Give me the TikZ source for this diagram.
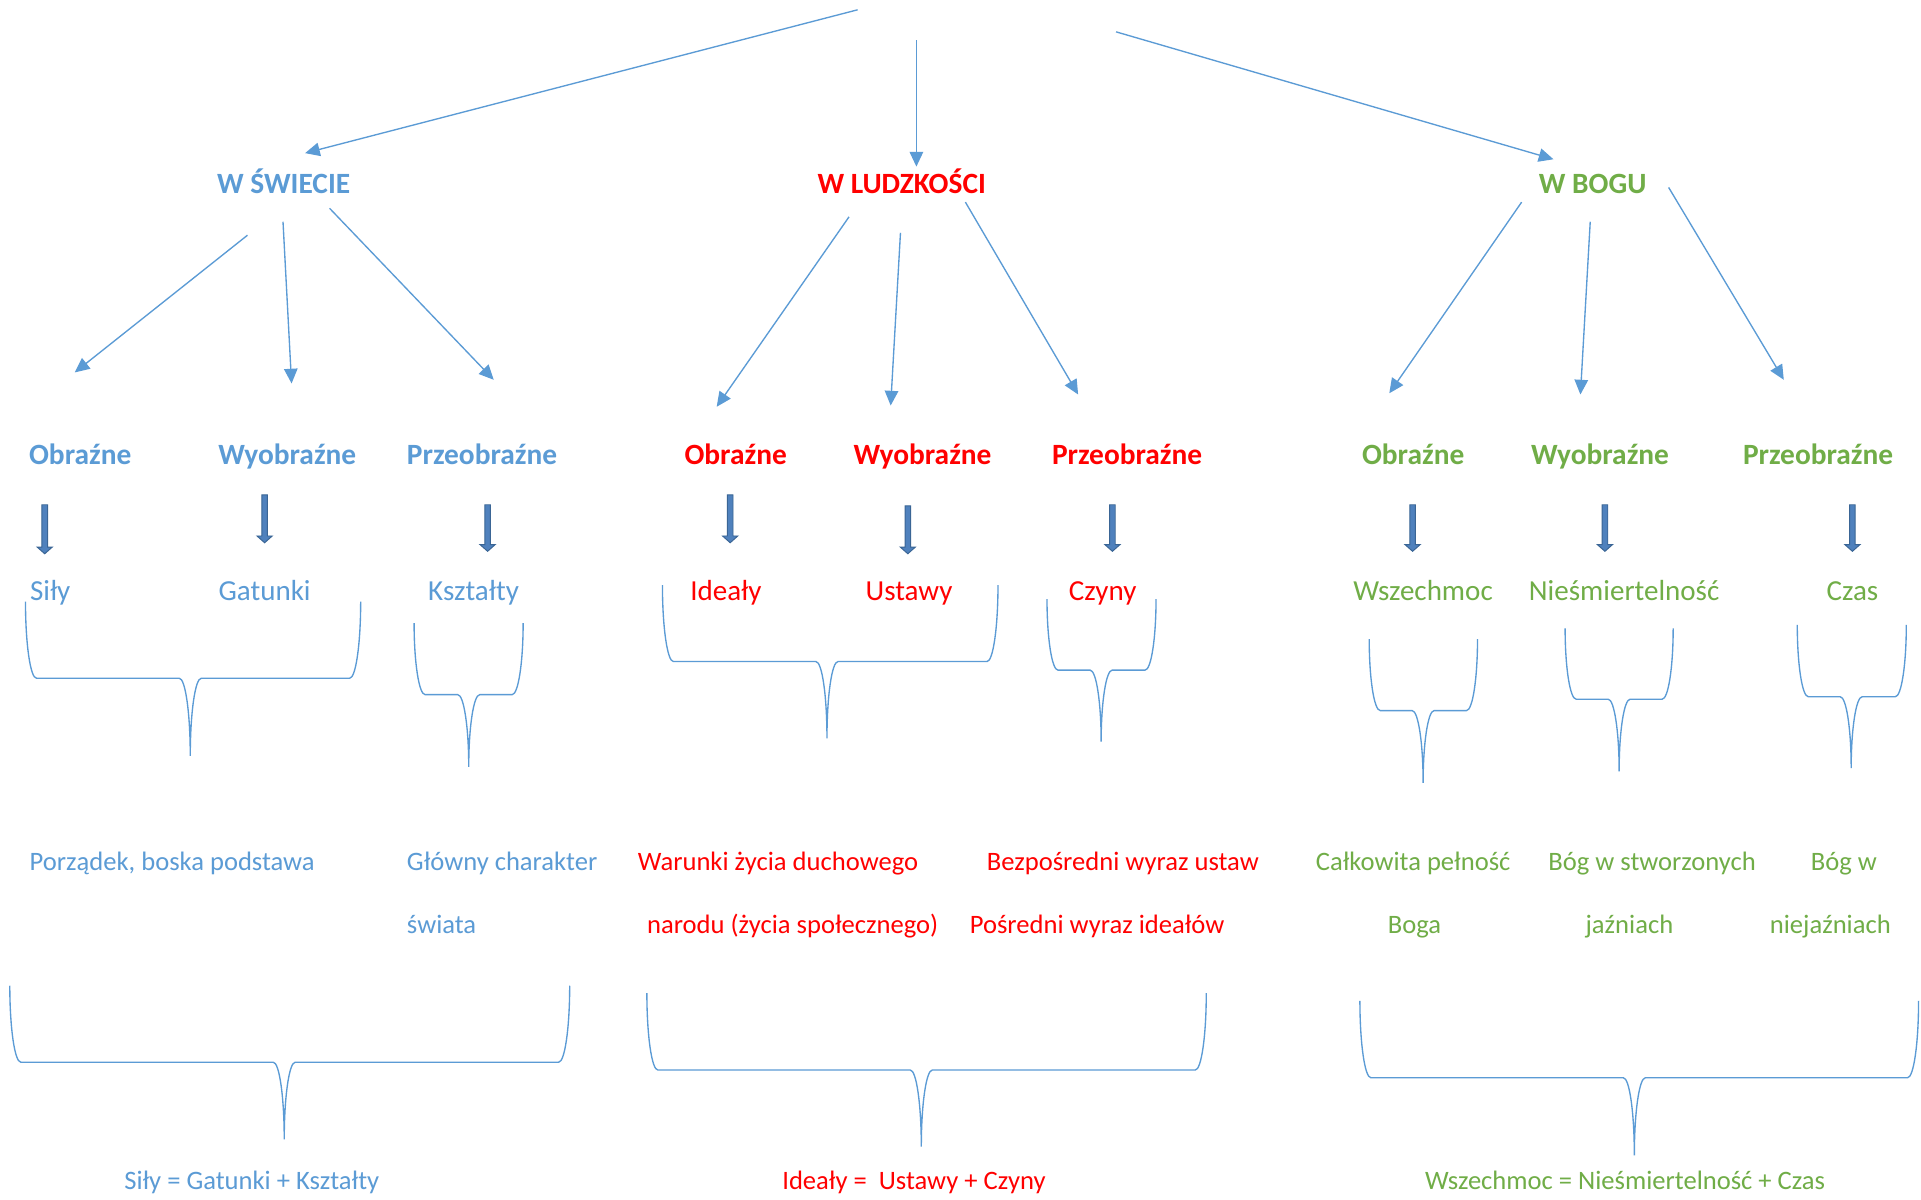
\documentclass[tikz,border=0pt]{standalone}
\usepackage{fontspec}
\setmainfont{Carlito}
\usetikzlibrary{arrows.meta,backgrounds}

\definecolor{swblue}{HTML}{5B9BD5}
\definecolor{lured}{HTML}{FF0000}
\definecolor{bogreen}{HTML}{70AD47}
\definecolor{fatfill}{HTML}{4F81BD}
\definecolor{fatline}{HTML}{3A6595}

% brace opening upwards: left x, right x, top y, bar y, tip x, tip y
\newcommand{\bracedown}[6]{%
  \draw[bracel] (#1,#3) .. controls (#1,{#3+0.552*(#4-#3)}) and ({#1+4},#4) .. ({#1+9},#4)
    -- ({#5-9},#4) .. controls ({#5-4},#4) and (#5,{#4+0.448*(#6-#4)}) .. (#5,#6)
    .. controls (#5,{#4+0.448*(#6-#4)}) and ({#5+4},#4) .. ({#5+9},#4)
    -- ({#2-9},#4) .. controls ({#2-4},#4) and (#2,{#3+0.552*(#4-#3)}) .. (#2,#3);}

% thick block arrow: x, top y, tip y
\newcommand{\fatarrow}[3]{%
  \filldraw[fill=fatfill, draw=fatline, line width=0.8pt, line join=miter]
    ({#1-2.3},#2) -- ({#1+2.3},#2) -- ({#1+2.3},{#3-5.5}) -- ({#1+6.2},{#3-5.5})
    -- (#1,#3) -- ({#1-6.2},{#3-5.5}) -- ({#1-2.3},{#3-5.5}) -- cycle;}

\begin{document}
\begin{tikzpicture}[x=1pt, y=-1pt,
    background rectangle/.style={fill=white}, show background rectangle,
    txt/.style={inner sep=0pt, anchor=base},
    title/.style={txt, font=\fontsize{24}{28}\selectfont\bfseries},
    item/.style={txt, font=\fontsize{23.7}{28}\selectfont},
    desc/.style={txt, font=\fontsize{21.7}{26}\selectfont},
    thinarrow/.style={draw=swblue, line width=1.1pt, -{Triangle[length=12pt,width=11pt]}},
    bracel/.style={draw=swblue, line width=1.1pt}]

  % Fix the frame
  \useasboundingbox (0,0) rectangle (1568,979);

  % Titles
  \node[title, swblue] (swiat) at (231.5,158) {W ŚWIECIE};
  \node[title, lured] (ludz) at (736,158) {W LUDZKOŚCI};
  \node[title, bogreen] (bog) at (1300,158) {W BOGU};

  % Thin arrows (start and end points)
  \foreach \n/\ax/\ay/\bx/\by in {t1/700/8/249/125, t2/748/33/748/136, t3/911/26/1268/130,
      s1/202/192/61/304, s2/231/181/238/313, s3/269/170/403/310,
      l1/693/177/585/332, l2/735/190/727/331, l3/788/165/880/322,
      b1/1242/165/1134/321, b2/1298/181/1290/322, b3/1362/153/1456/310} {
    \coordinate (\n-a) at (\ax,\ay);
    \coordinate (\n-b) at (\bx,\by);
    \draw[thinarrow] (\n-a) -- (\n-b);
  }

  % Second level
  \node[title, swblue] (swObr) at (65.5,379.2) {Obraźne};
  \node[title, swblue] (swWyo) at (234.5,379.2) {Wyobraźne};
  \node[title, swblue] (swPrz) at (393.5,379.2) {Przeobraźne};
  \node[title, lured] (luObr) at (600.5,379.2) {Obraźne};
  \node[title, lured] (luWyo) at (753,379.2) {Wyobraźne};
  \node[title, lured] (luPrz) at (920,379.2) {Przeobraźne};
  \node[title, bogreen] (boObr) at (1153.5,379.2) {Obraźne};
  \node[title, bogreen] (boWyo) at (1306,379.2) {Wyobraźne};
  \node[title, bogreen] (boPrz) at (1484,379.2) {Przeobraźne};

  % Block arrows
  \fatarrow{36.5}{412}{452}
  \fatarrow{216}{404}{443}
  \fatarrow{398}{412}{450}
  \fatarrow{596}{404}{443}
  \fatarrow{741}{413}{452}
  \fatarrow{908}{412}{450}
  \fatarrow{1153}{412}{450}
  \fatarrow{1310}{412}{450}
  \fatarrow{1512}{412}{450}

  % Third level
  \node[item, swblue] (sily) at (41,490.2) {Siły};
  \node[item, swblue] (gatunki) at (216,490.2) {Gatunki};
  \node[item, swblue] (ksztalty) at (386.5,490.2) {Kształty};
  \node[item, lured] (idealy) at (592.5,490.2) {Ideały};
  \node[item, lured] (ustawy) at (742,490.2) {Ustawy};
  \node[item, lured] (czyny) at (900,490.2) {Czyny};
  \node[item, bogreen] (wszechmoc) at (1161.5,490.2) {Wszechmoc};
  \node[item, bogreen] (niesm) at (1325.7,490.2) {Nieśmiertelność};
  \node[item, bogreen] (czas) at (1512,490.2) {Czas};

  % Small braces
  \bracedown{20.8}{294.4}{491}{553.6}{155.3}{617}
  \bracedown{338}{427}{508.7}{567}{382.6}{626}
  \bracedown{540.7}{814.6}{477.5}{540}{675}{602.6}
  \bracedown{854.6}{943.6}{489}{547}{898.8}{605.4}
  \bracedown{1117.6}{1206}{521.6}{580}{1161.6}{639}
  \bracedown{1277.5}{1365.7}{512.9}{570.7}{1321.6}{629.6}
  \bracedown{1467}{1556}{510}{568.7}{1511}{627}

  % Descriptions
  \node[desc, swblue] (porzadek) at (140.5,710.2) {Porządek, boska podstawa};
  \node[desc, swblue, anchor=base west] (glowny1) at (332,710.2) {Główny charakter};
  \node[desc, swblue, anchor=base west] (glowny2) at (332,762.2) {świata};
  \node[desc, lured] (warunki1) at (635,710.2) {Warunki życia duchowego};
  \node[desc, lured] (warunki2) at (647,762.2) {narodu (życia społecznego)};
  \node[desc, lured] (bezp) at (916.5,710.2) {Bezpośredni wyraz ustaw};
  \node[desc, lured] (posr) at (895.5,762.2) {Pośredni wyraz ideałów};
  \node[desc, bogreen] (calk1) at (1153.5,710.2) {Całkowita pełność};
  \node[desc, bogreen] (calk2) at (1154.5,762.2) {Boga};
  \node[desc, bogreen] (stw1) at (1348.5,710.2) {Bóg w stworzonych};
  \node[desc, bogreen] (stw2) at (1330,762.2) {jaźniach};
  \node[desc, bogreen] (niej1) at (1505,710.2) {Bóg w};
  \node[desc, bogreen] (niej2) at (1494,762.2) {niejaźniach};

  % Big braces
  \bracedown{8}{465}{804.6}{867}{232}{930}
  \bracedown{528}{984.6}{810.7}{873.4}{752}{936}
  \bracedown{1110}{1566}{817}{879.7}{1334}{943}

  % Formulas
  \node[desc, swblue] (fswiat) at (205.5,971) {Siły = Gatunki + Kształty};
  \node[desc, lured] (fludz) at (746,971) {Ideały = \ Ustawy + Czyny};
  \node[desc, bogreen] (fbog) at (1326.5,971) {Wszechmoc = Nieśmiertelność + Czas};

\end{tikzpicture}
\end{document}
